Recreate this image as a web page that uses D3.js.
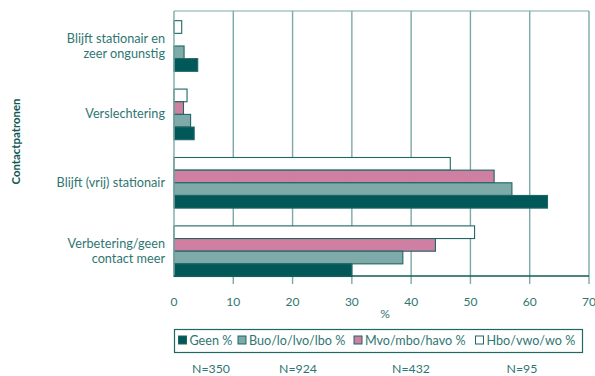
<!DOCTYPE html>
<html>
<head>
<meta charset="utf-8">
<script src="https://cdn.jsdelivr.net/npm/d3@7"></script>
<style>
  html, body { margin: 0; padding: 0; background: #fff; }
  svg { display: block; font-family: Lato, "Open Sans", sans-serif; }
</style>
</head>
<body>
<svg id="chart" width="595" height="376"></svg>
<script>
// Contact patterns by education level (percentages)
const categories = [
  ["Blijft stationair en", "zeer ongunstig"],
  ["Verslechtering"],
  ["Blijft (vrij) stationair"],
  ["Verbetering/geen", "contact meer"]
];
const seriesNames = ["Hbo/vwo/wo %", "Mvo/mbo/havo %", "Buo/lo/lvo/lbo %", "Geen %"];
const hboValues  = [1.3, 2.2, 46.6, 50.7];
const mvoValues  = [0, 1.6, 54.0, 44.1];
const buoValues  = [1.7, 2.8, 57.0, 38.6];
const geenValues = [4.0, 3.4, 63.0, 30.0];
const xTicks = [0, 10, 20, 30, 40, 50, 60, 70];
const legendOrder = ["Geen %", "Buo/lo/lvo/lbo %", "Mvo/mbo/havo %", "Hbo/vwo/wo %"];
const sampleSizes = ["N=350", "N=924", "N=432", "N=95"];

const valuesBySeries = {
  "Hbo/vwo/wo %": hboValues,
  "Mvo/mbo/havo %": mvoValues,
  "Buo/lo/lvo/lbo %": buoValues,
  "Geen %": geenValues
};
const fills = {
  "Geen %": "#005858",
  "Buo/lo/lvo/lbo %": "#7eaaa9",
  "Mvo/mbo/havo %": "#cf7fa1",
  "Hbo/vwo/wo %": "#ffffff"
};
const ink = "#2f7672";
const gridColor = "#7ea9a8";
const dark = "#0e5c5b";

const svg = d3.select("#chart");
const plot = { left: 174, right: 589, top: 11, bottom: 276 };

const x = d3.scaleLinear().domain([0, 70]).range([plot.left, plot.right]);
const catKeys = categories.map(c => c.join(" "));
const y0 = d3.scaleBand().domain(catKeys).range([11.8, 285.4])
  .paddingInner(0.26).paddingOuter(0.13);
const y1 = d3.scaleBand().domain(seriesNames).range([0, y0.bandwidth()]);

// vertical gridlines (with ticks hanging below the axis)
svg.append("g").selectAll("line").data(xTicks.slice(1)).join("line")
  .attr("x1", d => x(d)).attr("x2", d => x(d))
  .attr("y1", plot.top).attr("y2", plot.bottom + 8)
  .attr("stroke", gridColor).attr("stroke-width", 1.4);
// top border
svg.append("line").attr("x1", plot.left).attr("x2", plot.right)
  .attr("y1", plot.top).attr("y2", plot.top)
  .attr("stroke", gridColor).attr("stroke-width", 1.2);

// bars
const groups = svg.append("g").selectAll("g").data(catKeys).join("g")
  .attr("transform", d => `translate(0,${y0(d)})`);
groups.selectAll("rect")
  .data((d, i) => seriesNames.map(s => ({ s, v: valuesBySeries[s][i] })).filter(e => e.v > 0))
  .join("rect")
  .attr("x", x(0))
  .attr("y", e => y1(e.s))
  .attr("width", e => x(e.v) - x(0))
  .attr("height", y1.bandwidth())
  .attr("fill", e => fills[e.s])
  .attr("stroke", "#1f6664")
  .attr("stroke-width", 1.1);

// left axis and bottom axis lines
svg.append("line").attr("x1", plot.left).attr("x2", plot.left)
  .attr("y1", plot.top).attr("y2", plot.bottom)
  .attr("stroke", gridColor).attr("stroke-width", 1.4);
svg.append("line").attr("x1", plot.left).attr("x2", plot.right)
  .attr("y1", plot.bottom).attr("y2", plot.bottom)
  .attr("stroke", dark).attr("stroke-width", 1.4);

// x tick labels
svg.append("g").selectAll("text").data(xTicks).join("text")
  .attr("x", d => x(d)).attr("y", 306)
  .attr("text-anchor", "middle")
  .attr("fill", ink).attr("font-size", 12)
  .text(d => d);
svg.append("text").attr("x", 385).attr("y", 318)
  .attr("text-anchor", "middle").attr("fill", ink).attr("font-size", 12)
  .text("%");

// category labels
const catLabels = svg.append("g").selectAll("text").data(categories).join("text")
  .attr("text-anchor", "end").attr("fill", ink).attr("font-size", 12.7);
catLabels.each(function (lines, i) {
  const cy = y0(catKeys[i]) + y0.bandwidth() / 2;
  const n = lines.length;
  d3.select(this).selectAll("tspan").data(lines).join("tspan")
    .attr("x", 165)
    .attr("y", (l, j) => cy + 4 + (j - (n - 1) / 2) * 15)
    .text(l => l);
});

// y axis title
svg.append("text")
  .attr("transform", "translate(20,141.5) rotate(-90)")
  .attr("text-anchor", "middle").attr("fill", "#0f5a58")
  .attr("font-size", 11.4).attr("font-weight", "bold")
  .text("Contactpatronen");

// legend
svg.append("rect").attr("x", 174.5).attr("y", 329.5).attr("width", 408).attr("height", 23)
  .attr("fill", "none").attr("stroke", "#1f6664").attr("stroke-width", 1.2);
const legendX = [178.5, 238, 354, 475.5];
const leg = svg.append("g").selectAll("g").data(legendOrder).join("g")
  .attr("transform", (d, i) => `translate(${legendX[i]},336)`);
leg.append("rect").attr("width", 8).attr("height", 8)
  .attr("fill", d => fills[d]).attr("stroke", "#1f6664").attr("stroke-width", 1);
leg.append("text").attr("x", 11).attr("y", 8.7)
  .attr("fill", ink).attr("font-size", 12.6).text(d => d);

// sample sizes
const nX = [211, 298, 411, 522];
svg.append("g").selectAll("text").data(sampleSizes).join("text")
  .attr("x", (d, i) => nX[i]).attr("y", 373)
  .attr("text-anchor", "middle").attr("fill", ink).attr("font-size", 12.3)
  .text(d => d);
</script>
</body>
</html>
